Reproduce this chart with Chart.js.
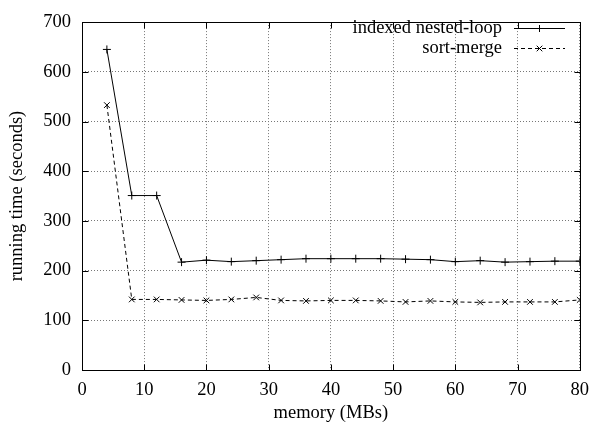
<!DOCTYPE html>
<html>
<head>
<meta charset="utf-8">
<script src="https://cdn.jsdelivr.net/npm/chart.js@4/dist/chart.umd.min.js"></script>
<style>
html,body{margin:0;padding:0;background:#fff;}
#wrap{width:598px;height:428px;position:relative;}
</style>
</head>
<body>
<div id="wrap"><canvas id="c" width="598" height="428"></canvas></div>
<script>
const memoryMB = [4, 8, 12, 16, 20, 24, 28, 32, 36, 40, 44, 48, 52, 56, 60, 64, 68, 72, 76, 80];
const indexedNestedLoop = [645, 351, 351, 217, 221, 218, 220, 222, 224, 224, 224, 224, 223, 222, 218, 220, 217, 218, 219, 219];
const sortMerge = [533, 142, 142, 141, 140, 142, 146, 140, 139, 140, 140, 139, 137, 139, 137, 136, 137, 137, 137, 141];
const seriesNames = ['indexed nested-loop', 'sort-merge'];
const xTicks = [0, 10, 20, 30, 40, 50, 60, 70, 80];
const yTicks = [0, 100, 200, 300, 400, 500, 600, 700];

const FONT = "'Liberation Serif', 'Times New Roman', serif";
const FS = 18.5;

function pts(xs, ys) { return xs.map((x, i) => ({x: x, y: ys[i]})); }

const frameAndLegend = {
  id: 'frameAndLegend',
  afterDraw(chart) {
    const ctx = chart.ctx;
    const a = chart.chartArea;
    const xs = chart.scales.x, ys = chart.scales.y;
    ctx.save();
    ctx.strokeStyle = '#000';
    ctx.lineWidth = 1;
    ctx.setLineDash([]);
    const L = Math.round(a.left) + 0.5, R = Math.round(a.right) + 0.5;
    const T = Math.round(a.top) + 0.5, B = Math.round(a.bottom) + 0.5;
    ctx.strokeRect(L, T, R - L, B - T);
    const tl = 6;
    ctx.beginPath();
    xTicks.forEach(v => {
      const px = Math.round(xs.getPixelForValue(v)) + 0.5;
      ctx.moveTo(px, B); ctx.lineTo(px, B - tl);
      ctx.moveTo(px, T); ctx.lineTo(px, T + tl);
    });
    yTicks.forEach(v => {
      const py = Math.round(ys.getPixelForValue(v)) + 0.5;
      ctx.moveTo(L, py); ctx.lineTo(L + tl, py);
      ctx.moveTo(R, py); ctx.lineTo(R - tl, py);
    });
    ctx.stroke();

    // legend
    ctx.font = FS + 'px ' + FONT;
    ctx.fillStyle = '#000';
    ctx.textAlign = 'right';
    ctx.textBaseline = 'middle';
    chart.data.datasets.forEach((ds, i) => {
      const y = 28 + i * 20;
      ctx.fillText(ds.label, 502, y);
      ctx.beginPath();
      ctx.setLineDash(ds.borderDash || []);
      ctx.moveTo(514, y + 0.5); ctx.lineTo(565, y + 0.5);
      ctx.stroke();
      ctx.setLineDash([]);
      const mx = 539.5, my = y + 0.5, r = 3.5;
      ctx.beginPath();
      if (ds.pointStyle === 'cross') {
        ctx.moveTo(mx - r, my); ctx.lineTo(mx + r, my);
        ctx.moveTo(mx, my - r); ctx.lineTo(mx, my + r);
      } else {
        ctx.moveTo(mx - r * 0.8, my - r * 0.8); ctx.lineTo(mx + r * 0.8, my + r * 0.8);
        ctx.moveTo(mx - r * 0.8, my + r * 0.8); ctx.lineTo(mx + r * 0.8, my - r * 0.8);
      }
      ctx.stroke();
    });
    ctx.restore();
  }
};

new Chart(document.getElementById('c'), {
  type: 'line',
  data: {
    datasets: [
      {
        label: seriesNames[0],
        data: pts(memoryMB, indexedNestedLoop),
        borderColor: '#000',
        backgroundColor: '#000',
        borderWidth: 1,
        pointStyle: 'cross',
        pointRadius: 4,
        pointBorderWidth: 1,
        pointBorderColor: '#000',
        tension: 0,
        fill: false
      },
      {
        label: seriesNames[1],
        data: pts(memoryMB, sortMerge),
        borderColor: '#000',
        backgroundColor: '#000',
        borderWidth: 1,
        borderDash: [4, 3],
        pointStyle: 'crossRot',
        pointRadius: 4,
        pointBorderWidth: 1,
        pointBorderColor: '#000',
        tension: 0,
        fill: false
      }
    ]
  },
  options: {
    responsive: false,
    animation: false,
    devicePixelRatio: 1,
    layout: {padding: {left: 0, right: 10, top: 13, bottom: 0}},
    plugins: {legend: {display: false}, tooltip: {enabled: false}},
    scales: {
      x: {
        type: 'linear',
        min: 0, max: 80,
        afterBuildTicks: s => { s.ticks = xTicks.map(v => ({value: v})); },
        afterFit: s => { s.height = 58; },
        ticks: {color: '#000', font: {family: FONT, size: FS}, padding: 9, maxRotation: 0, autoSkip: false},
        grid: {color: '#777', drawTicks: false, lineWidth: 1},
        border: {display: false, dash: [1, 2]},
        title: {display: true, text: 'memory (MBs)', color: '#000', font: {family: FONT, size: FS}, padding: {top: 2, bottom: 4}}
      },
      y: {
        type: 'linear',
        min: 0, max: 700,
        afterBuildTicks: s => { s.ticks = yTicks.map(v => ({value: v})); },
        afterFit: s => { s.width = 82; },
        ticks: {color: '#000', font: {family: FONT, size: FS}, padding: 11, autoSkip: false},
        grid: {color: '#777', drawTicks: false, lineWidth: 1},
        border: {display: false, dash: [1, 2]},
        title: {display: true, text: 'running time (seconds)', color: '#000', font: {family: FONT, size: FS}, padding: {top: 6, bottom: 0}}
      }
    }
  },
  plugins: [frameAndLegend]
});
</script>
</body>
</html>
